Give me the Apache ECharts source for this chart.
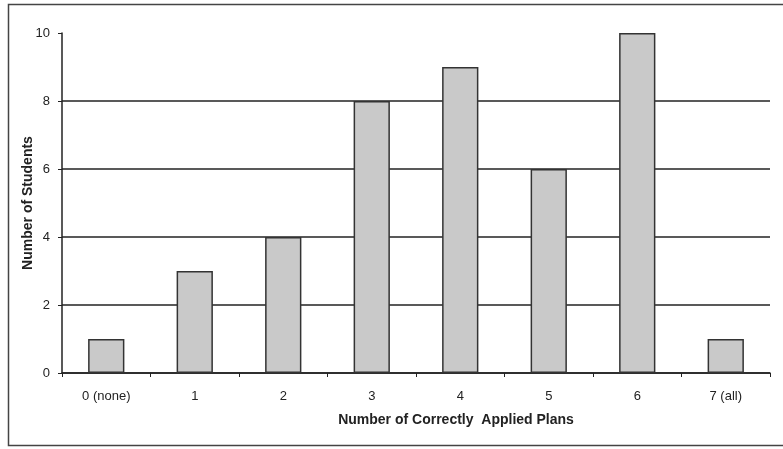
<!DOCTYPE html>
<html><head><meta charset="utf-8">
<script src="https://cdn.jsdelivr.net/npm/echarts@6/dist/echarts.min.js"></script>
<style>html,body{margin:0;padding:0;background:#fff}#c{width:783px;height:449px}</style>
</head><body><div id="c"></div>
<script>
const categories = ['0 (none)','1','2','3','4','5','6','7 (all)'];
const students = [1,3,4,8,9,6,10,1];
const xTitle = 'Number of Correctly  Applied Plans';
const yTitle = 'Number of Students';

const chart = echarts.init(document.getElementById('c'));
const font = 'Liberation Sans, Arial, sans-serif';
chart.setOption({
  animation: false,
  backgroundColor: '#fff',
  graphic: [{type:'rect', shape:{x:8.5,y:4.5,width:790,height:441}, style:{fill:'none', stroke:'#444', lineWidth:1.5}, z:-1}],
  grid: {left: 62, right: 13, top: 33, bottom: 76},
  xAxis: {
    type: 'category', data: categories, boundaryGap: true,
    axisLine: {lineStyle: {color: '#222', width: 1.5}},
    axisTick: {show: true, length: 4, lineStyle: {color: '#222'}},
    axisLabel: {color: '#222', fontFamily: font, fontSize: 13, margin: 17},
    name: xTitle, nameLocation: 'middle', nameGap: 40, nameMoveOverlap: false,
    nameTextStyle: {color: '#222', fontFamily: font, fontSize: 14, fontWeight: 'bold', padding: [0,0,0,80]}
  },
  yAxis: {
    type: 'value', min: 0, max: 10, interval: 2,
    axisLine: {show: true, lineStyle: {color: '#222', width: 1.5}},
    axisTick: {show: true, length: 4, lineStyle: {color: '#222'}},
    axisLabel: {color: '#222', fontFamily: font, fontSize: 13, margin: 12},
    splitLine: {show: true, showMaxLine: false, lineStyle: {color: '#222', width: 1.5}},
    name: yTitle, nameLocation: 'middle', nameGap: 27, nameRotate: 90, nameMoveOverlap: false,
    nameTextStyle: {color: '#222', fontFamily: font, fontSize: 14, fontWeight: 'bold'}
  },
  series: [{
    type: 'bar', data: students, barWidth: '41%',
    itemStyle: {color: '#c9c9c9', borderColor: '#333', borderWidth: 1.5}
  }]
});
</script></body></html>
